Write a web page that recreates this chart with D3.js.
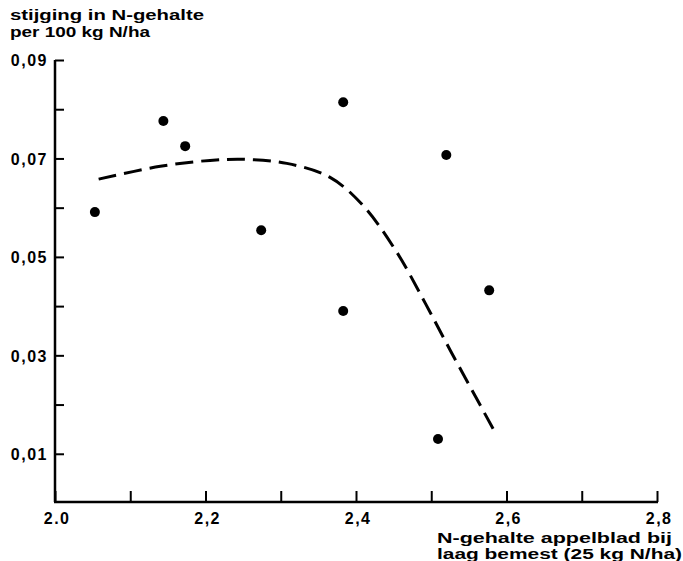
<!DOCTYPE html>
<html>
<head>
<meta charset="utf-8">
<script src="https://cdn.jsdelivr.net/npm/d3@7"></script>
<style>
  body { margin: 0; background: #fff; }
  svg text { font-family: "Liberation Sans", Arial, sans-serif; font-weight: bold; fill: #000; }
  .axis path, .axis line { stroke: #000; }
  .axis .tick text { font-size: 16px; letter-spacing: 1.5px; }
</style>
</head>
<body>
<div id="chart"></div>
<script>
// measured points (N-gehalte bij laag bemest, stijging per 100 kg N/ha)
var pointX = [2.053, 2.144, 2.173, 2.274, 2.383, 2.383, 2.520, 2.577, 2.509];
var pointY = [0.0591, 0.0776, 0.0725, 0.0554, 0.0814, 0.0390, 0.0707, 0.0432, 0.0130];

// dashed fitted curve
var curveX = [2.058, 2.140, 2.206, 2.255, 2.308, 2.365, 2.409, 2.454, 2.492, 2.525, 2.565, 2.586];
var curveY = [0.0658, 0.0684, 0.0696, 0.0698, 0.0690, 0.0662, 0.0605, 0.0510, 0.0406, 0.0311, 0.0199, 0.0140];

var xTicks = [2.0, 2.1, 2.2, 2.3, 2.4, 2.5, 2.6, 2.7, 2.8];
var xTickLabels = {"2": "2.0", "2.2": "2,2", "2.4": "2,4", "2.6": "2,6", "2.8": "2,8"};
var yTicks = [0.01, 0.02, 0.03, 0.04, 0.05, 0.06, 0.07, 0.08, 0.09];
var yTickLabels = {"0.01": "0,01", "0.03": "0,03", "0.05": "0,05", "0.07": "0,07", "0.09": "0,09"};

var yTitle = ["stijging in N-gehalte", "per 100 kg N/ha"];
var xTitle = ["N-gehalte appelblad bij", "laag bemest (25 kg N/ha)"];

var width = 683, height = 561;

var svg = d3.select("#chart").append("svg")
    .attr("width", width)
    .attr("height", height);

var x = d3.scaleLinear().domain([2.0, 2.8]).range([55, 657]);
var y = d3.scaleLinear().domain([0, 0.09]).range([503, 60]);

// y axis, ticks pointing inward
var yAxis = d3.axisLeft(y)
    .tickValues(yTicks)
    .tickSizeInner(-9)
    .tickSizeOuter(0)
    .tickPadding(7)
    .tickFormat(function(d) { return yTickLabels[String(+d.toFixed(2))] || ""; });

var gy = svg.append("g")
    .attr("class", "axis")
    .attr("transform", "translate(" + x(2.0) + ",0)")
    .call(yAxis);
gy.select(".domain").remove();
gy.append("line")
    .attr("y1", y(0.09)).attr("y2", 502)
    .attr("stroke", "#000").attr("stroke-width", 2.5);
gy.selectAll(".tick line").attr("stroke-width", 2);
gy.selectAll(".tick text").attr("dy", "0.36em");

// x axis, ticks pointing up
var xAxis = d3.axisBottom(x)
    .tickValues(xTicks)
    .tickSizeInner(-11)
    .tickSizeOuter(0)
    .tickPadding(11)
    .tickFormat(function(d) { return xTickLabels[String(+d.toFixed(1))] || ""; });

var gx = svg.append("g")
    .attr("class", "axis")
    .attr("transform", "translate(0,502)")
    .call(xAxis);
gx.select(".domain").remove();
gx.append("line")
    .attr("x1", x(2.0) - 1).attr("x2", x(2.8) + 1)
    .attr("stroke", "#000").attr("stroke-width", 2.5);
gx.selectAll(".tick line").attr("stroke-width", 2);
gx.selectAll(".tick text").attr("dx", "0.1em");

// axis titles
svg.selectAll(".ytitle")
    .data(yTitle)
  .enter().append("text")
    .attr("class", "ytitle")
    .attr("x", 10)
    .attr("y", function(d, i) { return 20 + i * 17; })
    .attr("font-size", 14)
    .attr("textLength", function(d, i) { return i == 0 ? 194 : 140; })
    .attr("lengthAdjust", "spacingAndGlyphs")
    .text(function(d) { return d; });

svg.selectAll(".xtitle")
    .data(xTitle)
  .enter().append("text")
    .attr("class", "xtitle")
    .attr("x", 437)
    .attr("y", function(d, i) { return 543 + i * 16; })
    .attr("font-size", 14)
    .attr("textLength", function(d, i) { return i == 0 ? 235 : 245; })
    .attr("lengthAdjust", "spacingAndGlyphs")
    .text(function(d) { return d; });

// dashed curve
var curve = curveX.map(function(d, i) { return [d, curveY[i]]; });
var line = d3.line()
    .x(function(d) { return x(d[0]); })
    .y(function(d) { return y(d[1]); })
    .curve(d3.curveCatmullRom);

svg.append("path")
    .datum(curve)
    .attr("d", line)
    .attr("fill", "none")
    .attr("stroke", "#000")
    .attr("stroke-width", 3)
    .attr("stroke-dasharray", "18,8");

// points
var points = pointX.map(function(d, i) { return {x: d, y: pointY[i]}; });
svg.selectAll(".dot")
    .data(points)
  .enter().append("circle")
    .attr("class", "dot")
    .attr("cx", function(d) { return x(d.x); })
    .attr("cy", function(d) { return y(d.y); })
    .attr("r", 5)
    .attr("fill", "#000");
</script>
</body>
</html>
